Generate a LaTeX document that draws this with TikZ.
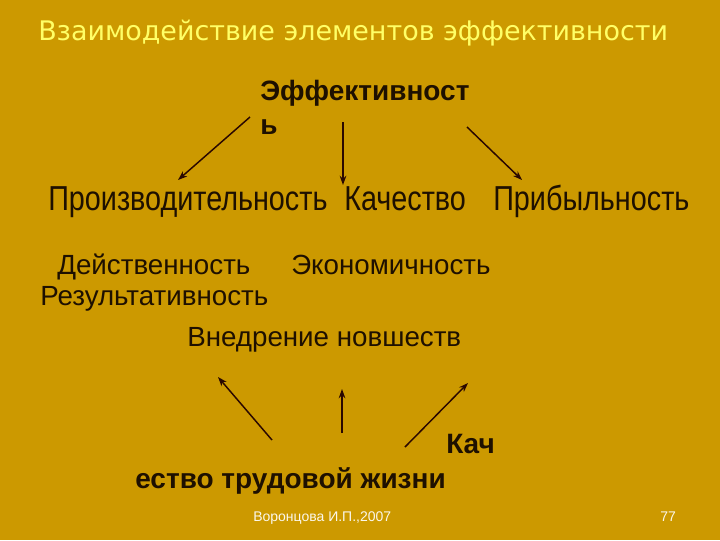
\documentclass[tikz,border=0pt]{standalone}
\usepackage{fontspec}
\usetikzlibrary{arrows.meta}
\setmainfont{Liberation Sans}
\newfontfamily\titlefont{DejaVu Sans}
\definecolor{bg}{HTML}{CC9900}
\definecolor{ttl}{HTML}{FFFF66}
\definecolor{ink}{HTML}{1E1000}
\definecolor{arr}{HTML}{2A0800}
\newcommand{\narrowtxt}[1]{\scalebox{0.83}[1]{#1}}
\begin{document}
\begin{tikzpicture}[x=0.75pt,y=-0.75pt,
  lbl/.style={inner sep=0pt,anchor=base west,text=ink,font=\fontsize{20.8}{24}\selectfont},
  toplbl/.style={lbl,font=\fontsize{26}{30}\selectfont},
  blbl/.style={lbl,font=\fontsize{21}{24}\selectfont\bfseries},
  foot/.style={inner sep=0pt,anchor=base west,text=white!92!bg,font=\fontsize{10.5}{12}\selectfont},
  arrw/.style={draw=arr,line width=1.1pt,-{Stealth[length=7pt,width=5pt]}}]
\fill[bg] (0,0) rectangle (720,540);
\useasboundingbox (0,0) rectangle (720,540);
\node[inner sep=0pt,anchor=base west,text=ttl,font=\titlefont\fontsize{20.2}{24}\selectfont] (title) at (38,40) {Взаимодействие элементов эффективности};
\node[blbl] (eff) at (260,100) {Эффективност};
\node[blbl] (eff2) at (260,134) {ь};
\node[toplbl] (prod) at (48,210) {\narrowtxt{Производительность}};
\node[toplbl] (qual) at (344,210) {\narrowtxt{Качество}};
\node[toplbl] (prof) at (493,210) {\narrowtxt{Прибыльность}};
\node[lbl] (deyst) at (57,274) {Действенность};
\node[lbl] (econ) at (291,274) {Экономичность};
\node[lbl] (res) at (40,305) {Результативность};
\node[lbl] (vned) at (187,346) {Внедрение новшеств};
\node[blbl] (kach) at (446,453) {Кач};
\node[blbl] (ktj) at (135,488) {ество трудовой жизни};
\node[foot] (auth) at (253,521) {Воронцова И.П.,2007};
\node[foot] (num) at (660,521) {77};
\coordinate (a1s) at (250,117); \coordinate (a1e) at (178,180);
\coordinate (a2s) at (343,122); \coordinate (a2e) at (343,185);
\coordinate (a3s) at (467,127); \coordinate (a3e) at (522,180);
\coordinate (b1s) at (272,440); \coordinate (b1e) at (218,377);
\coordinate (b2s) at (342,433); \coordinate (b2e) at (342,389);
\coordinate (b3s) at (405,447); \coordinate (b3e) at (468,383);
\draw[arrw] (a1s) -- (a1e);
\draw[arrw] (a2s) -- (a2e);
\draw[arrw] (a3s) -- (a3e);
\draw[arrw] (b1s) -- (b1e);
\draw[arrw] (b2s) -- (b2e);
\draw[arrw] (b3s) -- (b3e);
\end{tikzpicture}
\end{document}
